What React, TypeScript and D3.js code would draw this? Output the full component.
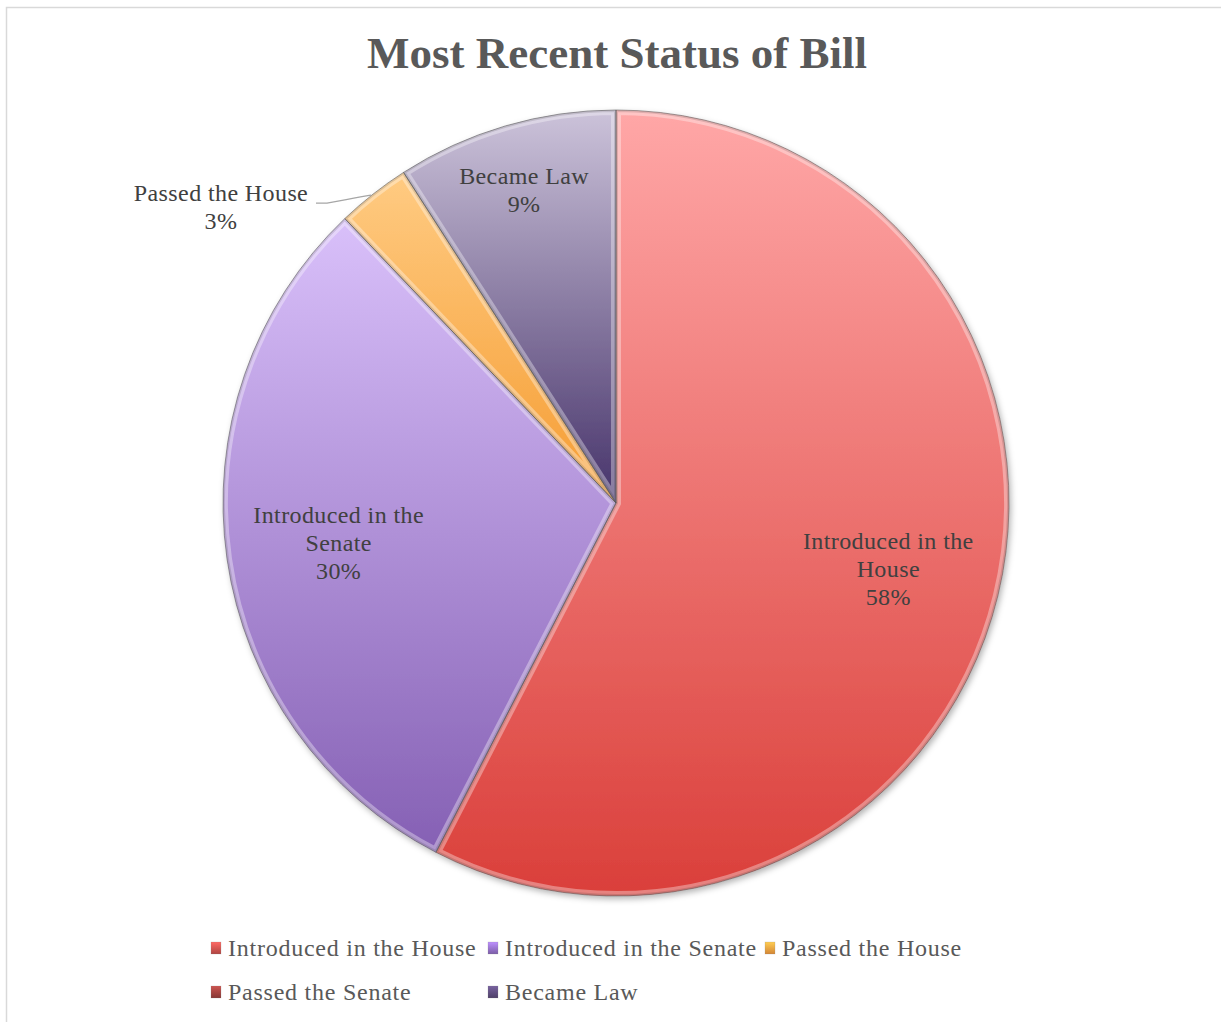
import React from "react";
import * as d3 from "d3";

const categories = [
  "Introduced in the House",
  "Introduced in the Senate",
  "Passed the House",
  "Passed the Senate",
  "Became Law",
];
const values = [19, 10, 1, 0, 3];
const topColors = ["#FFA7A7", "#D9C0FA", "#FFCB82", "#C0605C", "#CCC3DA"];
const bottomColors = ["#DA3F3A", "#8560B4", "#F59C32", "#8A2F2C", "#46336A"];
const legendColors = ["#C9504C", "#8E6CC0", "#F39A3E", "#9A3F3C", "#5A4A78"];
const title = "Most Recent Status of Bill";

const W = 1221;
const H = 1022;
const cx = 616;
const cy = 503;
const R = 393;
const FONT = "'Liberation Serif', 'Times New Roman', serif";

export default function App() {
  const pie = d3.pie<number>().sort(null).startAngle(0).endAngle(2 * Math.PI);
  const arcs = pie(values);
  const arcGen = d3.arc<d3.PieArcDatum<number>>().innerRadius(0).outerRadius(R);
  const total = d3.sum(values);
  const pct = d3.format(".0%");

  const labelRadius = (a: d3.PieArcDatum<number>) => {
    const frac = (a.endAngle - a.startAngle) / (2 * Math.PI);
    return frac > 0.2 ? R * 0.713 : R * 0.83;
  };

  const legendX = d3.scaleLinear().domain([0, 1]).range([211, 488]);
  const legendY = d3.scaleLinear().domain([0, 1]).range([948, 992]);

  return (
    <svg
      width={W}
      height={H}
      style={{ position: "absolute", left: 0, top: 0, background: "#fff" }}
      fontFamily={FONT}
    >
      <defs>
        {arcs.map((a, i) => (
          <linearGradient key={i} id={`g${i}`} x1="0" y1="0" x2="0" y2="1">
            <stop offset="0%" stopColor={topColors[i]} />
            <stop offset="100%" stopColor={bottomColors[i]} />
          </linearGradient>
        ))}
        {legendColors.map((c, i) => (
          <linearGradient key={i} id={`lg${i}`} x1="0" y1="0" x2="0" y2="1">
            <stop offset="0%" stopColor={d3.color(c)!.brighter(0.8).formatHex()} />
            <stop offset="100%" stopColor={d3.color(c)!.darker(0.4).formatHex()} />
          </linearGradient>
        ))}
        {arcs.map((a, i) => (
          <clipPath key={i} id={`c${i}`}>
            <path d={arcGen(a) || ""} transform={`translate(${cx},${cy})`} />
          </clipPath>
        ))}
        <filter id="shadow" x="-10%" y="-10%" width="120%" height="120%">
          <feDropShadow dx="2" dy="3" stdDeviation="3" floodColor="#000" floodOpacity="0.3" />
        </filter>
      </defs>

      <rect x={6.5} y={7.5} width={1240} height={1040} fill="none" stroke="#d9d9d9" strokeWidth={1.5} />

      <text x={617} y={68} textAnchor="middle" fontSize={45} fontWeight="bold" fill="#595959">
        {title}
      </text>

      <g filter="url(#shadow)">
        {arcs.map((a, i) =>
          a.value > 0 ? (
            <path key={i} d={arcGen(a) || ""} transform={`translate(${cx},${cy})`} fill={`url(#g${i})`} />
          ) : null
        )}
      </g>
      {arcs.map((a, i) =>
        a.value > 0 ? (
          <g key={i} clipPath={`url(#c${i})`}>
            <path
              d={arcGen(a) || ""}
              transform={`translate(${cx},${cy})`}
              fill="none"
              stroke="#ffffff"
              strokeOpacity={0.35}
              strokeWidth={10}
            />
            <path
              d={arcGen(a) || ""}
              transform={`translate(${cx},${cy})`}
              fill="none"
              stroke="#000"
              strokeOpacity={0.12}
              strokeWidth={4}
            />
          </g>
        ) : null
      )}
      {arcs.map((a, i) =>
        a.value > 0 ? (
          <path
            key={i}
            d={arcGen(a) || ""}
            transform={`translate(${cx},${cy})`}
            fill="none"
            stroke="#555"
            strokeOpacity={0.55}
            strokeWidth={1}
          />
        ) : null
      )}

      {arcs.map((a, i) => {
        if (a.value <= 0) return null;
        const frac = (a.endAngle - a.startAngle) / (2 * Math.PI);
        const mid = (a.startAngle + a.endAngle) / 2;
        const p = pct(a.value / total);
        if (frac < 0.05) {
          const ex = cx + R * Math.sin(mid);
          const ey = cy - R * Math.cos(mid);
          const tx = 221;
          const ty = 207;
          return (
            <g key={i}>
              <path
                d={`M${ex - 2},${ey + 1} C${ex - 20},${ey + 4} ${ex - 38},${ey + 8} ${tx + 106},${ey + 9} L${tx + 95},${ey + 9}`}
                fill="none"
                stroke="#a6a6a6"
                strokeWidth={1.3}
              />
              <text x={tx} y={ty - 6} textAnchor="middle" fontSize={24} fill="#404040" letterSpacing={0.4}>
                {categories[i]}
              </text>
              <text x={tx} y={ty + 22} textAnchor="middle" fontSize={24} fill="#404040" letterSpacing={0.4}>
                {p}
              </text>
            </g>
          );
        }
        const r = labelRadius(a);
        const lx = cx + r * Math.sin(mid);
        const ly = cy - r * Math.cos(mid);
        let lines: string[];
        if (categories[i].length > 15) {
          const words = categories[i].split(" ");
          lines = [words.slice(0, -1).join(" "), words[words.length - 1], p];
        } else {
          lines = [categories[i], p];
        }
        const lh = 28;
        const y0 = ly - ((lines.length - 1) * lh) / 2;
        return (
          <g key={i}>
            {lines.map((t, k) => (
              <text
                key={k}
                x={lx}
                y={y0 + k * lh + 8}
                textAnchor="middle"
                fontSize={24}
                fill="#404040"
                letterSpacing={0.4}
              >
                {t}
              </text>
            ))}
          </g>
        );
      })}

      {categories.map((c, i) => {
        const col = i % 3;
        const row = Math.floor(i / 3);
        const x = legendX(col);
        const y = legendY(row);
        return (
          <g key={i}>
            <rect
              x={x}
              y={y - 6}
              width={10}
              height={12}
              fill={`url(#lg${i})`}
              stroke="#888"
              strokeOpacity={0.4}
              strokeWidth={0.5}
            />
            <text x={x + 17} y={y + 8} fontSize={24} fill="#595959" letterSpacing={0.75}>
              {c}
            </text>
          </g>
        );
      })}
    </svg>
  );
}
